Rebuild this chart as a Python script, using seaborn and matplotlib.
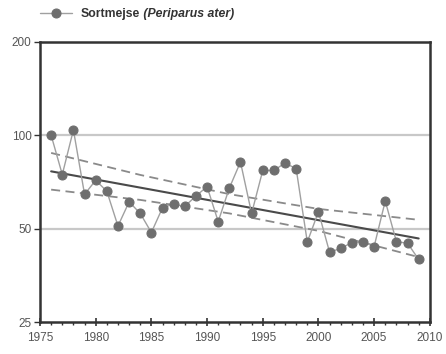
import matplotlib
matplotlib.use("Agg")
import matplotlib.pyplot as plt
import matplotlib.ticker as mticker
import seaborn as sns
import pandas as pd

# index values (1976 = 100)
years = list(range(1976, 2010))
index = [100, 74.7, 104, 64.5, 71.6, 66, 51, 61, 56, 48.6,
         58.4, 60, 59, 63.7, 68.3, 52.7, 67.6, 82, 56, 77,
         77, 81.4, 78, 45.3, 56.7, 42, 43.2, 45.1, 45.4, 43.8,
         61.4, 45.4, 44.9, 39.8]

trend_years = [1976, 2009]
trend = [76.5, 46.5]

band_years = [1976, 1984, 1992, 2000, 2009]
band_upper = [87.7, 74.5, 64.6, 57.9, 53.4]
band_lower = [66.8, 61.9, 56.0, 49.2, 40.5]

y_ticks = [25, 50, 100, 200]
x_ticks = list(range(1975, 2011, 5))

df = pd.DataFrame({"year": years, "index": index})

sns.set_style("white")
plt.rcParams["font.family"] = ["Liberation Sans", "DejaVu Sans"]

fig = plt.figure(figsize=(4.46, 3.54), dpi=100)
ax = fig.add_axes([0.0897, 0.090, 0.874, 0.792])

for yv in [50, 100]:
    ax.axhline(yv, color="#c8c8c8", lw=1.6, zorder=0)

sns.lineplot(data=df, x="year", y="index", ax=ax, color="#a0a0a0", lw=1.0,
             marker="o", markersize=6.5, markerfacecolor="#6e6e6e",
             markeredgecolor="#6e6e6e", label="Sortmejse", zorder=3)
sns.lineplot(x=trend_years, y=trend, ax=ax, color="#4a4a4a", lw=1.5, zorder=2)
sns.lineplot(x=band_years, y=band_upper, ax=ax, color="#8a8a8a", lw=1.3,
             dashes=(5, 3), zorder=2)
sns.lineplot(x=band_years, y=band_lower, ax=ax, color="#8a8a8a", lw=1.3,
             dashes=(5, 3), zorder=2)

ax.set_yscale("log")
ax.set_ylim(25, 200)
ax.set_xlim(1975, 2010)
ax.yaxis.set_major_locator(mticker.FixedLocator(y_ticks))
ax.yaxis.set_major_formatter(mticker.FixedFormatter([str(v) for v in y_ticks]))
ax.yaxis.set_minor_locator(mticker.NullLocator())
ax.set_xticks(x_ticks)
ax.xaxis.set_minor_locator(mticker.MultipleLocator(1))
ax.set_xlabel("")
ax.set_ylabel("")

for s in ax.spines.values():
    s.set_color("#333333")
    s.set_linewidth(1.8)

ax.tick_params(axis="x", which="major", direction="inout", length=6, width=1.2,
               color="#333333", labelsize=8.5, labelcolor="#555555", pad=4,
               bottom=True)
ax.tick_params(axis="x", which="minor", direction="out", length=2.5, width=1,
               color="#333333", bottom=True)
ax.tick_params(axis="y", which="major", direction="out", length=4, width=1,
               color="#333333", labelsize=8.5, labelcolor="#555555", pad=2,
               left=True)

leg = ax.legend(loc="lower left", bbox_to_anchor=(-0.012, 1.06), frameon=False,
                handlelength=2.6, handletextpad=0.7, borderaxespad=0,
                prop={"weight": "bold", "size": 8.8})
txt = leg.get_texts()[0]
txt.set_color("#333333")

# italic species name placed right after the legend label
fig.canvas.draw()
bb = txt.get_window_extent().transformed(fig.transFigure.inverted())
fig.text(bb.x1, bb.y0, " (Periparus ater)", va="bottom", ha="left",
         fontsize=8.8, fontweight="bold", fontstyle="italic", color="#333333")

fig.savefig("out.png", dpi=100)
